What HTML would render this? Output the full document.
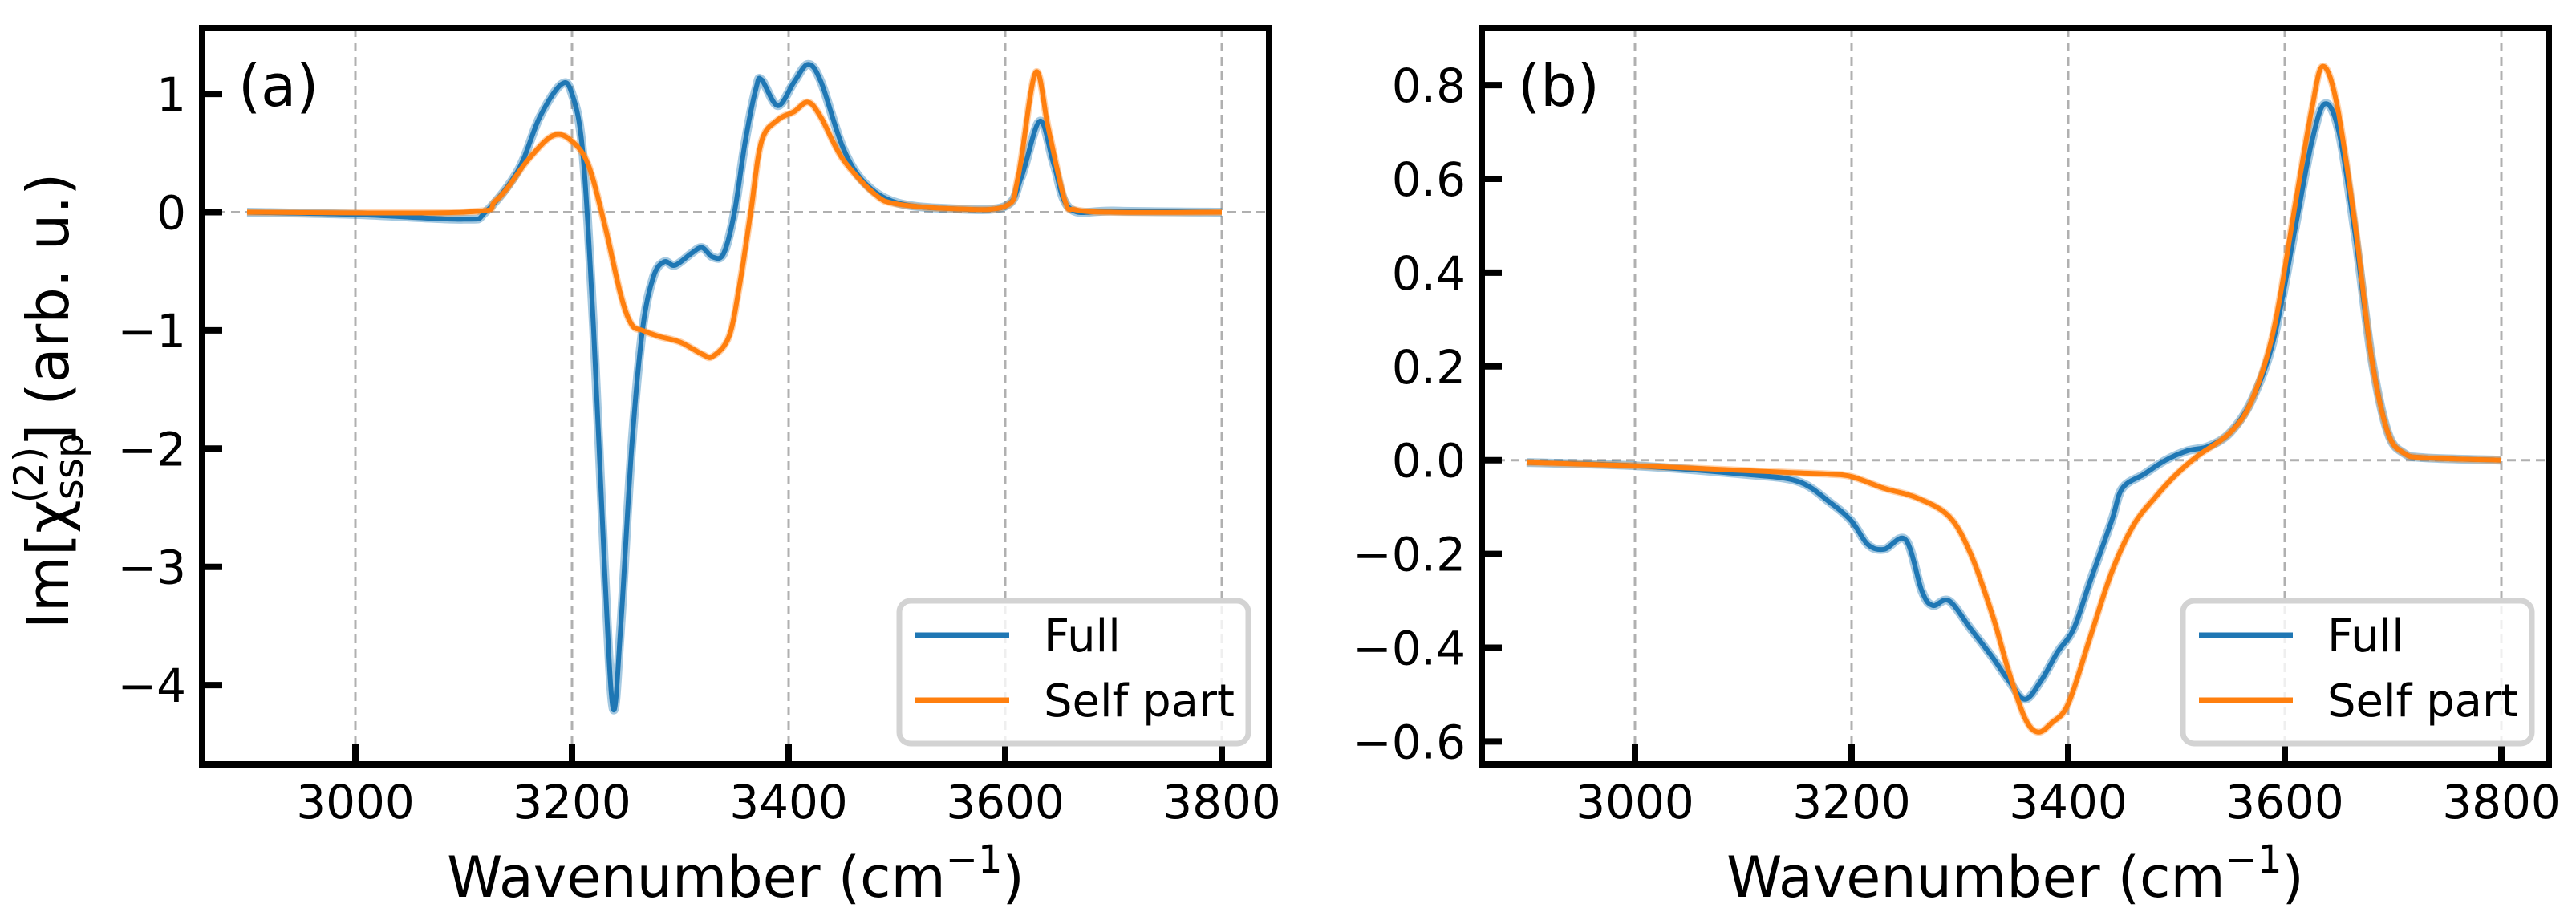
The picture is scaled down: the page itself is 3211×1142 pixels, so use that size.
<!DOCTYPE html>
<html><head><meta charset="utf-8"><style>
html,body{margin:0;padding:0;background:#fff;}
svg{display:block;font-family:"DejaVu Sans","Liberation Sans",sans-serif;}
</style></head><body>
<svg id="chart" width="3211" height="1142" viewBox="0 0 3211 1142"></svg>
<script>
const xTicks=[3000,3200,3400,3600,3800];
const aYTicks=[1,0,-1,-2,-3,-4];
const bYTicks=[0.8,0.6,0.4,0.2,0.0,-0.2,-0.4,-0.6];
const aFullX=[2900,3000,3100,3120,3150,3170,3190,3200,3210,3220,3230,3238,3245,3255,3265,3275,3285,3295,3310,3320,3330,3340,3350,3360,3370,3375,3390,3405,3418,3430,3450,3470,3500,3550,3600,3615,3632,3645,3660,3700,3800];
const aFullY=[0,-0.02,-0.06,0,0.35,0.8,1.08,1.0,0.5,-1.0,-3.0,-4.2,-3.5,-2.0,-1.0,-0.55,-0.42,-0.45,-0.35,-0.3,-0.38,-0.35,0.0,0.6,1.05,1.12,0.9,1.1,1.25,1.1,0.55,0.25,0.08,0.03,0.05,0.3,0.77,0.4,0.03,0.01,0];
const aSelfX=[2900,3100,3130,3160,3183,3200,3215,3230,3245,3255,3265,3280,3300,3320,3330,3345,3355,3365,3375,3390,3405,3418,3430,3450,3480,3500,3550,3600,3612,3628,3640,3655,3665,3700,3800];
const aSelfY=[0,0,0.1,0.45,0.65,0.6,0.4,-0.1,-0.7,-0.95,-1.0,-1.05,-1.1,-1.2,-1.22,-1.05,-0.6,0.0,0.6,0.78,0.85,0.93,0.8,0.45,0.15,0.07,0.03,0.05,0.3,1.18,0.7,0.1,0.02,0,0];
const bFullX=[2900,3000,3100,3150,3180,3200,3215,3230,3250,3265,3275,3290,3310,3330,3345,3360,3375,3390,3405,3420,3440,3450,3470,3490,3510,3530,3550,3570,3590,3610,3625,3637,3650,3665,3680,3695,3710,3730,3800];
const bFullY=[-0.005,-0.012,-0.03,-0.045,-0.09,-0.13,-0.18,-0.19,-0.17,-0.28,-0.31,-0.3,-0.36,-0.42,-0.47,-0.51,-0.47,-0.41,-0.36,-0.26,-0.13,-0.06,-0.03,0.0,0.02,0.03,0.06,0.13,0.26,0.5,0.68,0.76,0.7,0.48,0.22,0.06,0.015,0.005,0];
const bSelfX=[2900,3000,3100,3150,3180,3200,3230,3260,3290,3310,3330,3345,3360,3372,3385,3400,3420,3440,3460,3480,3500,3520,3550,3570,3590,3610,3625,3635,3648,3665,3680,3695,3710,3730,3800];
const bSelfY=[-0.005,-0.012,-0.022,-0.027,-0.03,-0.035,-0.06,-0.08,-0.12,-0.2,-0.33,-0.45,-0.55,-0.58,-0.56,-0.52,-0.38,-0.24,-0.14,-0.08,-0.03,0.01,0.06,0.13,0.28,0.55,0.75,0.84,0.76,0.5,0.22,0.06,0.015,0.005,0];

const NS='http://www.w3.org/2000/svg';
const svg=document.getElementById('chart');
function mk(tag,attrs,parent,text){const e=document.createElementNS(NS,tag);for(const k in attrs)e.setAttribute(k,attrs[k]);if(text!==undefined)e.textContent=text;(parent||svg).appendChild(e);return e;}
function pathD(xs,ys,sx,sy){const p=xs.map((x,i)=>[sx(x),sy(ys[i])]);let d='M'+p[0][0]+','+p[0][1];
for(let i=0;i<p.length-1;i++){const p0=p[Math.max(0,i-1)],p1=p[i],p2=p[i+1],p3=p[Math.min(p.length-1,i+2)];
const c1=[p1[0]+(p2[0]-p0[0])/6,p1[1]+(p2[1]-p0[1])/6],c2=[p2[0]-(p3[0]-p1[0])/6,p2[1]-(p3[1]-p1[1])/6];
d+=' C'+c1[0].toFixed(1)+','+c1[1].toFixed(1)+' '+c2[0].toFixed(1)+','+c2[1].toFixed(1)+' '+p2[0].toFixed(1)+','+p2[1].toFixed(1);}return d;}

function panel(cfg){
const g=mk('g',{});


const L=cfg.left,R=cfg.left+1330,T=35,B=953;
const sx=v=>cfg.left+191+(v-3000)*1.35;
const sy=v=>cfg.y0+(-v)*cfg.ppu;
xTicks.forEach(t=>{const l=mk('line',{x1:sx(t),x2:sx(t),y1:T,y2:B,stroke:'#b0b0b0','stroke-width':3,'stroke-dasharray':'11,7'},g);

});
const z=mk('line',{x1:L,x2:R,y1:sy(0),y2:sy(0),stroke:'#b0b0b0','stroke-width':3,'stroke-dasharray':'11,7'},g);


const band=mk('path',{d:pathD(cfg.fx,cfg.fy,sx,sy),fill:'none',stroke:'#1f77b4','stroke-opacity':0.4,'stroke-width':11,'stroke-linejoin':'round'},g);


const sb=mk('path',{d:pathD(cfg.sxs,cfg.sys,sx,sy),fill:'none',stroke:'#ff7f0e','stroke-opacity':0.35,'stroke-width':9,'stroke-linejoin':'round'},g);


const fl=mk('path',{d:pathD(cfg.fx,cfg.fy,sx,sy),fill:'none',stroke:'#1f77b4','stroke-width':6,'stroke-linejoin':'round'},g);


const sl=mk('path',{d:pathD(cfg.sxs,cfg.sys,sx,sy),fill:'none',stroke:'#ff7f0e','stroke-width':6,'stroke-linejoin':'round'},g);


const fr=mk('rect',{x:L,y:T,width:R-L,height:B-T,fill:'none',stroke:'#000','stroke-width':8},g);


xTicks.forEach(t=>{const l=mk('line',{x1:sx(t),x2:sx(t),y1:B,y2:B-25,stroke:'#000','stroke-width':8},g);


const tx=mk('text',{x:sx(t),y:1020,'font-size':58,'text-anchor':'middle'},g,String(t));

});
cfg.yt.forEach(t=>{const l=mk('line',{x1:L,x2:L+25,y1:sy(t),y2:sy(t),stroke:'#000','stroke-width':8},g);


const s=(t<0?'\u2212':'')+(cfg.dec?Math.abs(t).toFixed(1):String(Math.abs(t)));
const tx=mk('text',{x:L-20,y:sy(t)+21,'font-size':58,'text-anchor':'end'},g,s);

});
const pl=mk('text',{x:L+45,y:132,'font-size':72},g,cfg.label);


const xl=mk('text',{x:(L+R)/2,y:1118,'font-size':70,'text-anchor':'middle'},g);


mk('tspan',{},xl,'Wavenumber (cm');
mk('tspan',{dy:-30,'font-size':48},xl,'\u22121');
mk('tspan',{dy:30},xl,')');
const lg=mk('g',{},g);


const lx=cfg.lgx;
mk('rect',{x:lx,y:749,width:435,height:178,rx:14,fill:'#fff','fill-opacity':0.8,stroke:'#d3d3d3','stroke-width':7},lg);
const e1=mk('line',{x1:lx+20,x2:lx+137,y1:792,y2:792,stroke:'#1f77b4','stroke-width':7},lg);


mk('text',{x:lx+180,y:812,'font-size':56},lg,'Full');
const e2=mk('line',{x1:lx+20,x2:lx+137,y1:873,y2:873,stroke:'#ff7f0e','stroke-width':7},lg);


mk('text',{x:lx+180,y:893,'font-size':56},lg,'Self part');
}
panel({name:'panel-a',left:252,y0:264.5,ppu:147.4,yt:aYTicks,dec:false,label:'(a)',fx:aFullX,fy:aFullY,sxs:aSelfX,sys:aSelfY,lgx:1121});
panel({name:'panel-b',left:1847,y0:573.7,ppu:584.5,yt:bYTicks,dec:true,label:'(b)',fx:bFullX,fy:bFullY,sxs:bSelfX,sys:bSelfY,lgx:2721});
const yl=mk('text',{x:0,y:0,'font-size':72,'text-anchor':'middle',transform:'translate(85,500) rotate(-90)'});


mk('tspan',{},yl,'Im[\u03c7');
mk('tspan',{dy:18,'font-size':50},yl,'ssp');
mk('tspan',{dx:-88,dy:-50,'font-size':50},yl,'(2)');
mk('tspan',{dy:32},yl,'] (arb. u.)');
</script>
</body></html>
